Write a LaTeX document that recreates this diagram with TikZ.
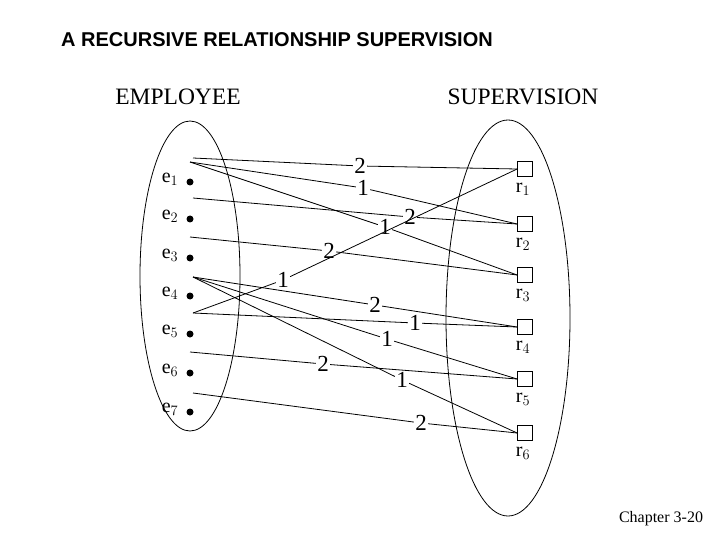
\documentclass[tikz,border=0pt]{standalone}
\usepackage{fontspec}
\setmainfont{Liberation Serif}
\newfontfamily\sans{Liberation Sans}
\begin{document}
\begin{tikzpicture}[x=1pt,y=-1pt,line width=0.8pt,
  lab/.style={fill=white,inner sep=1pt,font=\fontsize{23}{23}\selectfont},
  dotn/.style={circle,fill=black,inner sep=0pt,minimum size=7pt},
  rbox/.style={draw,inner sep=0pt,minimum size=15pt},
  el/.style={font=\fontsize{20}{20}\selectfont}]
\useasboundingbox (0,0) rectangle (720,540);
\node[font=\sans\bfseries\fontsize{20}{20}\selectfont] (title) at (277,40) {A RECURSIVE RELATIONSHIP SUPERVISION};
\node[font=\fontsize{23.5}{23.5}\selectfont] (emp) at (178,97) {EMPLOYEE};
\node[font=\fontsize{23.5}{23.5}\selectfont] (sup) at (523,97) {SUPERVISION};
\node[font=\fontsize{16}{16}\selectfont] (chap) at (661,519) {Chapter 3-20};
\draw (190,276) ellipse [x radius=50, y radius=155];
\draw (508,318) ellipse [x radius=62, y radius=198];
\foreach \i/\y in {1/182,2/219,3/258,4/296,5/334,6/373,7/412}{
  \node[dotn] (d\i) at (190,\y) {};
  \node[el] (e\i) at (170,\y-3) {e$_{\i}$};
}
\foreach \i/\y in {1/169,2/224,3/275,4/327,5/379,6/433}{
  \node[rbox] (r\i) at (525,\y) {};
  \node[el] (rl\i) at (523,\y+20) {r$_{\i}$};
}
\coordinate (s1a) at (193,158);
\coordinate (s1b) at (190,162);
\coordinate (s2) at (193,198);
\coordinate (s3) at (190,237);
\coordinate (s4) at (193,277);
\coordinate (s5) at (193,313);
\coordinate (s6) at (190,352);
\coordinate (s7) at (193,393);
\node[lab] (a) at (360,166) {2};
\node[lab] (b) at (363,188) {1};
\node[lab] (c) at (385,227) {1};
\node[lab] (d) at (410,217) {2};
\node[lab] (f) at (329,251) {2};
\node[lab] (g) at (283,280) {1};
\node[lab] (h) at (375,305) {2};
\node[lab] (i) at (415,323) {1};
\node[lab] (j) at (387,339) {1};
\node[lab] (k) at (402,380) {1};
\node[lab] (l) at (323,364) {2};
\node[lab] (m) at (421,423) {2};
\draw (s1a) -- (a) -- (r1.west);
\draw (s1b) -- (b) -- (r2.west);
\draw (s1b) -- (c) -- (r3.west);
\draw (s2) -- (d) -- (r2.west);
\draw (s3) -- (f) -- (r3.west);
\draw (s5) -- (g) -- (r1.west);
\draw (s5) -- (i) -- (r4.west);
\draw (s4) -- (h) -- (r4.west);
\draw (s4) -- (j) -- (r5.west);
\draw (s4) -- (k) -- (r6.west);
\draw (s6) -- (l) -- (r5.west);
\draw (s7) -- (m) -- (r6.west);
\end{tikzpicture}
\end{document}
